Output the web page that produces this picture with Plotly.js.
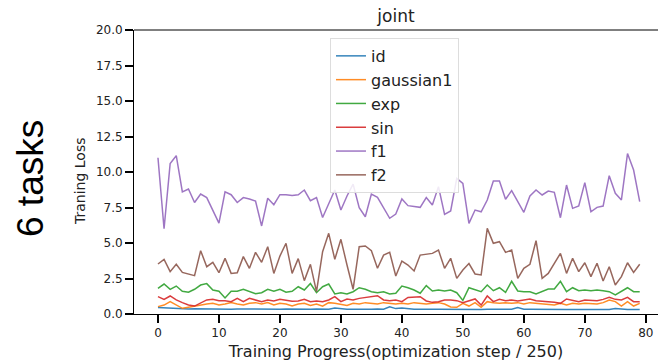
<!DOCTYPE html>
<html>
<head>
<meta charset="utf-8">
<script src="https://cdn.plot.ly/plotly-3.0.1.min.js"></script>
<style>html,body{margin:0;padding:0;background:#fff;}#chart{width:658px;height:361px;}</style>
</head>
<body>
<div id="chart"></div>
<script>
const steps = Array.from({length: 80}, (_, i) => i);
const seriesNames = ['id', 'gaussian1', 'exp', 'sin', 'f1', 'f2'];
const seriesColors = ['#1f77b4', '#ff7f0e', '#2ca02c', '#d62728', '#9467bd', '#8c564b'];

const idLoss = [0.45,0.42,0.40,0.38,0.36,0.35,0.37,0.36,0.35,0.38,
  0.36,0.35,0.34,0.36,0.35,0.37,0.35,0.34,0.36,0.35,
  0.34,0.36,0.35,0.33,0.35,0.34,0.36,0.35,0.33,0.42,
  0.35,0.33,0.34,0.32,0.34,0.33,0.35,0.34,0.50,0.38,
  0.42,0.35,0.33,0.34,0.32,0.33,0.34,0.33,0.32,0.33,
  0.35,0.34,0.33,0.32,0.33,0.34,0.33,0.32,0.33,0.45,
  0.34,0.33,0.32,0.34,0.33,0.32,0.33,0.32,0.31,0.33,
  0.32,0.31,0.32,0.33,0.31,0.38,0.32,0.31,0.32,0.31];

const gaussian1Loss = [0.52,0.63,0.87,0.63,0.40,0.47,0.56,0.63,0.70,0.75,
  0.63,0.70,0.80,0.70,0.63,0.75,0.80,0.70,0.80,0.63,
  0.75,0.70,0.56,0.70,0.75,0.60,0.70,0.55,0.80,0.75,
  0.70,0.60,0.75,0.70,0.80,0.75,0.70,0.80,0.75,0.70,
  0.75,0.70,0.80,0.75,0.70,0.75,0.80,0.70,0.50,0.47,
  0.75,0.56,0.80,0.47,0.87,0.80,0.75,0.80,0.75,0.80,
  0.70,0.80,0.75,0.70,0.70,0.63,0.75,0.63,0.75,0.70,
  0.75,0.70,0.70,0.80,0.99,0.87,0.56,0.87,0.56,0.75];

const expLoss = [1.81,2.11,1.74,1.97,1.60,1.53,1.74,2.04,2.14,1.69,
  1.60,1.13,1.60,1.60,1.74,1.60,1.43,1.50,1.74,1.60,
  1.74,1.53,1.60,1.92,1.69,2.15,1.50,1.92,2.11,1.41,
  1.50,1.41,1.57,1.85,1.74,1.57,1.50,1.57,1.41,1.46,
  1.97,1.85,1.69,1.46,2.00,1.62,1.69,1.62,1.69,1.50,
  0.96,1.85,1.69,1.57,2.04,1.64,1.85,1.53,2.30,1.62,
  1.57,1.57,1.41,1.57,1.76,1.76,2.30,1.57,1.85,1.64,
  1.69,1.64,1.69,1.64,1.57,1.34,1.60,1.85,1.57,1.57];

const sinLoss = [1.22,1.03,1.27,0.99,0.80,0.63,0.56,0.80,0.99,1.03,
  0.94,0.94,0.87,1.10,0.87,1.10,0.99,0.87,0.99,0.92,
  1.03,0.94,0.90,0.92,1.03,0.87,0.92,0.87,0.99,1.22,
  0.87,1.06,0.99,1.10,1.17,1.27,1.29,0.99,0.94,0.99,
  0.87,1.17,1.22,1.22,0.92,0.82,0.87,0.99,0.99,0.94,
  0.80,0.95,1.06,0.63,1.27,0.87,1.03,0.94,0.99,0.92,
  0.99,1.06,0.94,0.92,0.87,0.82,0.75,1.06,0.94,0.87,
  0.99,0.99,0.94,1.03,1.17,1.03,0.99,1.17,0.87,0.87];

const f1Loss = [11.0,6.0,10.6,11.15,8.6,8.8,7.85,8.45,8.2,7.3,
  6.4,8.6,8.4,7.85,8.2,8.1,7.95,6.2,8.15,7.7,
  8.4,8.4,8.35,8.4,8.73,7.98,8.2,6.8,7.8,8.73,
  7.32,8.31,9.15,7.49,6.85,8.45,8.22,7.49,6.74,7.04,
  8.1,7.63,7.56,7.51,8.2,7.67,8.97,7.02,7.26,9.55,
  9.2,6.38,7.32,7.2,8.03,9.37,9.37,8.08,8.69,7.91,
  7.16,8.31,8.73,8.38,8.66,8.57,6.78,9.08,7.44,7.61,
  9.25,7.2,7.51,7.6,9.74,8.5,8.03,11.3,10.14,7.91];

const f2Loss = [3.52,3.85,2.98,3.5,2.93,2.79,2.7,4.46,3.33,3.64,
  2.91,3.92,2.86,2.9,4.04,3.22,4.34,3.64,4.74,2.86,
  4.08,4.98,2.86,3.9,2.35,3.5,1.57,4.39,5.68,3.85,
  5.26,3.45,1.74,4.74,4.79,4.46,3.22,4.15,4.34,2.68,
  3.73,3.45,3.03,4.15,4.2,4.27,4.5,3.22,3.92,2.51,
  3.1,3.55,2.82,2.75,6.03,4.98,5.09,4.34,4.5,2.51,
  3.22,3.5,5.16,2.51,2.86,3.61,4.27,2.86,3.92,2.98,
  3.61,2.63,3.57,2.32,3.33,2.04,2.63,3.61,2.93,3.5];

const xTicks = [0, 10, 20, 30, 40, 50, 60, 70, 80];
const yTicks = [0, 2.5, 5, 7.5, 10, 12.5, 15, 17.5, 20];

const allSeries = [idLoss, gaussian1Loss, expLoss, sinLoss, f1Loss, f2Loss];

const traces = allSeries.map((vals, k) => ({
  type: 'scatter',
  mode: 'lines',
  x: steps,
  y: vals,
  name: seriesNames[k],
  line: {color: seriesColors[k], width: 1.5},
  opacity: 0.9
}));

const font = 'DejaVu Sans, sans-serif';

const layout = {
  width: 658,
  height: 361,
  margin: {l: 134, r: 0, t: 30, b: 47, pad: 0},
  paper_bgcolor: '#fff',
  plot_bgcolor: '#fff',
  showlegend: true,
  title: {
    text: 'joint',
    font: {family: font, size: 17, color: '#222'},
    x: 0.5, xref: 'paper', xanchor: 'center',
    y: 1 - 16 / 361, yref: 'container', yanchor: 'middle'
  },
  xaxis: {
    range: [-3.93, 82],
    tickvals: xTicks,
    ticktext: xTicks.map(String),
    ticks: 'outside', ticklen: 8, tickwidth: 2, tickcolor: '#000',
    showline: true, linecolor: '#000', linewidth: 1,
    showgrid: false, zeroline: false,
    tickfont: {family: font, size: 12, color: '#222'},
    title: {text: 'Training Progress(optimization step / 250)', font: {family: font, size: 16, color: '#222'}, standoff: 7}
  },
  yaxis: {
    range: [0, 20],
    tickvals: yTicks,
    tickformat: '.1f',
    ticks: 'outside', ticklen: 8, tickwidth: 2, tickcolor: '#000',
    showline: true, linecolor: '#000', linewidth: 1,
    showgrid: false, zeroline: false,
    tickfont: {family: font, size: 12, color: '#222'}
  },
  legend: {
    x: 0.374, y: 0.972, xanchor: 'left', yanchor: 'top',
    bgcolor: 'rgba(255,255,255,0.85)',
    bordercolor: '#dddddd', borderwidth: 1,
    font: {family: font, size: 16, color: '#222'}
  },
  shapes: [
    {type: 'line', xref: 'paper', yref: 'paper', x0: 0, x1: 1, y0: 1, y1: 1, line: {color: '#000', width: 1}}
  ],
  annotations: [
    {text: 'Traning Loss', textangle: -90, xref: 'paper', yref: 'paper',
     x: (80 - 134) / 524, y: (314 - 181) / 284, xanchor: 'center', yanchor: 'middle',
     showarrow: false, font: {family: font, size: 14, color: '#222'}},
    {text: '6 tasks', textangle: -90, xref: 'paper', yref: 'paper',
     x: (30 - 134) / 524, y: (314 - 179) / 284, xanchor: 'center', yanchor: 'middle',
     showarrow: false, font: {family: 'Liberation Sans, Arial, sans-serif', size: 37, color: '#000'}}
  ]
};

Plotly.newPlot('chart', traces, layout, {displayModeBar: false, staticPlot: true});
</script>
</body>
</html>
